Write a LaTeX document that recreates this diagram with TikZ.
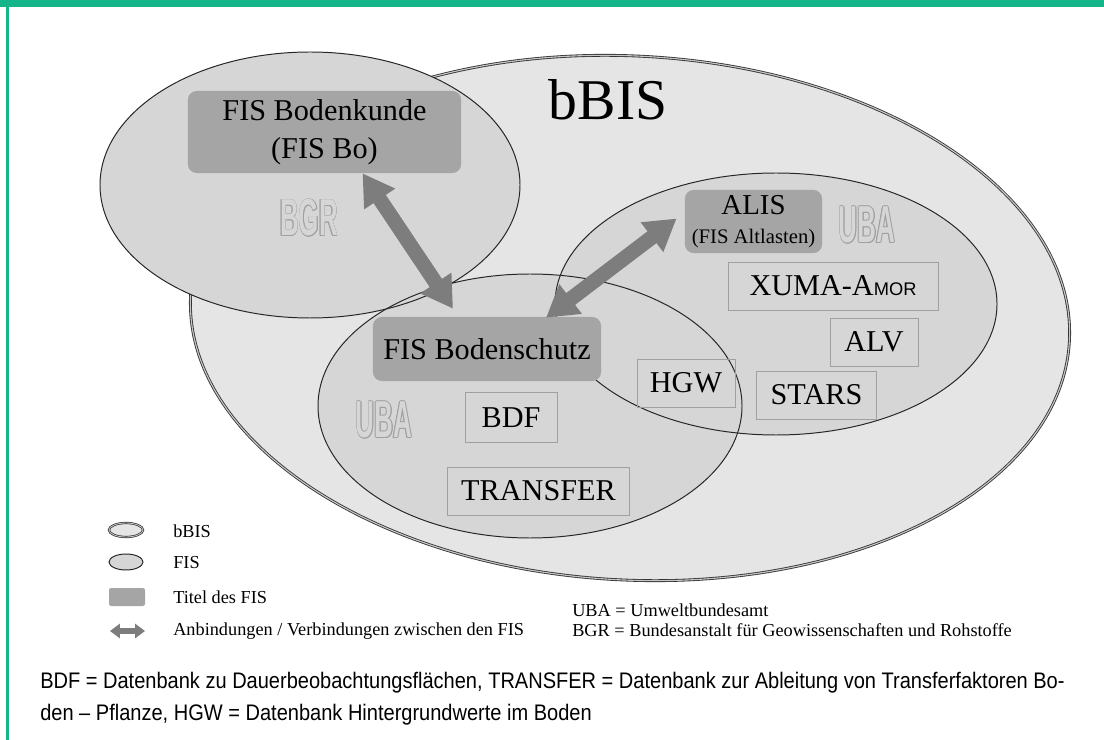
\documentclass[tikz,border=0pt]{standalone}
\usepackage{fontspec}
\setmainfont{Liberation Serif}
\newfontfamily\umrissfont[FakeStretch=0.5]{Liberation Sans}
\newfontfamily\morfont{Liberation Sans}
\newfontfamily\fussfont[FakeStretch=0.89]{Liberation Sans}
\usetikzlibrary{arrows.meta,calc}
\definecolor{gruen}{RGB}{22,180,137}
\definecolor{bisgrau}{RGB}{229,229,229}
\definecolor{fisgrau}{RGB}{214,214,214}
\definecolor{titelgrau}{RGB}{165,165,165}
\definecolor{pfeilgrau}{RGB}{125,125,125}
\definecolor{randgrau}{RGB}{160,160,160}
\newcommand\hohltext[1]{%
  \makebox[0pt][l]{\kern-.55pt\textcolor{randgrau}{#1}}%
  \makebox[0pt][l]{\kern.55pt\textcolor{randgrau}{#1}}%
  \makebox[0pt][l]{\raisebox{.55pt}{\textcolor{randgrau}{#1}}}%
  \makebox[0pt][l]{\raisebox{-.55pt}{\textcolor{randgrau}{#1}}}%
  \makebox[0pt][l]{\kern.4pt\raisebox{.4pt}{\textcolor{randgrau}{#1}}}%
  \makebox[0pt][l]{\kern-.4pt\raisebox{-.4pt}{\textcolor{randgrau}{#1}}}%
  \makebox[0pt][l]{\kern.4pt\raisebox{-.4pt}{\textcolor{randgrau}{#1}}}%
  \makebox[0pt][l]{\kern-.4pt\raisebox{.4pt}{\textcolor{randgrau}{#1}}}%
  \textcolor{fisgrau}{#1}}
\begin{document}
\begin{tikzpicture}[x=0.025cm,y=-0.025cm]
\tikzstyle{titel}=[fill=titelgrau,rounded corners=0.22cm,inner sep=0pt,align=center,font=\fontsize{21.5}{27}\selectfont]
\tikzstyle{kasten}=[draw=randgrau,line width=0.6pt,inner sep=0pt,minimum height=1.2cm,font=\fontsize{21.5}{26}\selectfont]
\tikzstyle{umriss}=[inner sep=0pt,font=\umrissfont\bfseries\fontsize{37}{40}\selectfont]
\tikzstyle{leg}=[anchor=west,inner sep=0pt,font=\fontsize{13}{15}\selectfont]
\tikzstyle{pfeil}=[draw=pfeilgrau,line width=10.5pt,{Triangle[length=22pt,width=25pt]}-{Triangle[length=22pt,width=25pt]}]
\tikzstyle{linie}=[draw=black!85,line width=0.7pt]

\useasboundingbox (0,0) rectangle (1104,740);
% Rahmen
\fill[gruen] (0,0) rectangle (1104,7);
\fill[gruen] (6,7) rectangle (9,740);

% bBIS und die FIS
\filldraw[fill=bisgrau,draw=black!80,line width=0.6pt,double=gray!45,double distance=0.8pt,rotate around={-3:(630,318)}] (630,318) ellipse [x radius=440,y radius=262];
\fill[fisgrau] (310,185) ellipse [x radius=210,y radius=133];
\fill[fisgrau] (776,304) ellipse [x radius=221,y radius=131];
\fill[fisgrau] (530,406) ellipse [x radius=212,y radius=132];
\draw[linie] (310,185) ellipse [x radius=210,y radius=133];
\draw[linie] (776,304) ellipse [x radius=221,y radius=131];
\draw[linie] (530,406) ellipse [x radius=212,y radius=132];
\node[font=\fontsize{41}{41}\selectfont] (bbis) at (608,100) {bBIS};

% Titel der FIS
\node[titel,minimum width=6.83cm,minimum height=2.05cm] (bo) at (324.5,132) {FIS Bodenkunde\\(FIS Bo)};
\node[titel,minimum width=3.43cm,minimum height=1.58cm,font=\fontsize{20.5}{21}\selectfont] (alis) at (753.5,221.5) {ALIS\\{\fontsize{14.7}{16}\selectfont(FIS Altlasten)}};
\node[titel,minimum width=5.7cm,minimum height=1.6cm] (bs) at (487,349) {FIS Bodenschutz};

% Umrissschrift
\node[umriss] (bgr) at (309,218) {\hohltext{BGR}};
\node[umriss] (uba1) at (867,225) {\hohltext{UBA}};
\node[umriss] (uba2) at (384,420) {\hohltext{UBA}};

% Datenbanken
\node[kasten,minimum width=2.45cm] (hgw) at (686,383) {HGW};
\node[kasten,minimum width=2.3cm,minimum height=1.23cm] (bdf) at (511,417.5) {BDF};
\node[kasten,minimum width=4.53cm] (transfer) at (538.5,491) {TRANSFER};
\node[kasten,minimum width=5.25cm] (xuma) at (833,286) {XUMA-A{\morfont\fontsize{13}{13}\selectfont MOR}};
\node[kasten,minimum width=2.2cm] (alv) at (874,342) {ALV};
\node[kasten,minimum width=2.98cm] (stars) at (816.5,395) {STARS};

% Anbindungen
\draw[pfeil] ($(bo.south)+(38,0)$) -- ($(bs.north)+(-34,-8)$);
\draw[pfeil] ($(bs.north)+(59,1)$) -- ($(alis.west)+(-8,-3)$);

% Legende
\filldraw[fill=bisgrau,draw=black!80,line width=0.5pt,double=gray!45,double distance=0.6pt] (126,530) ellipse [x radius=17,y radius=7];
\filldraw[fill=fisgrau,linie] (126,562) ellipse [x radius=17,y radius=8];
\fill[titelgrau,rounded corners=1.5pt] (109,588) rectangle (145,606);
\draw[pfeilgrau,line width=4pt,{Triangle[length=7pt,width=10pt]}-{Triangle[length=7pt,width=10pt]}] (110,631) -- (145,631);
\node[leg] (lbis) at (173,531) {bBIS};
\node[leg] (lfis) at (173,563) {FIS};
\node[leg] (ltitel) at (173,597) {Titel des FIS};
\node[leg] (lpfeil) at (173,631) {Anbindungen / Verbindungen zwischen den FIS};
\node[anchor=west,align=left,inner sep=0pt,font=\fontsize{13}{14.2}\selectfont] (abk) at (572,620) {UBA = Umweltbundesamt\\BGR = Bundesanstalt für Geowissenschaften und Rohstoffe};

% Fussnote
\node[anchor=north west,align=left,inner sep=0pt,font=\fussfont\fontsize{16}{22.8}\selectfont] (fuss) at (40,672) {BDF = Datenbank zu Dauerbeobachtungsflächen, TRANSFER = Datenbank zur Ableitung von Transferfaktoren Bo-\\den – Pflanze, HGW = Datenbank Hintergrundwerte im Boden};
\end{tikzpicture}
\end{document}
